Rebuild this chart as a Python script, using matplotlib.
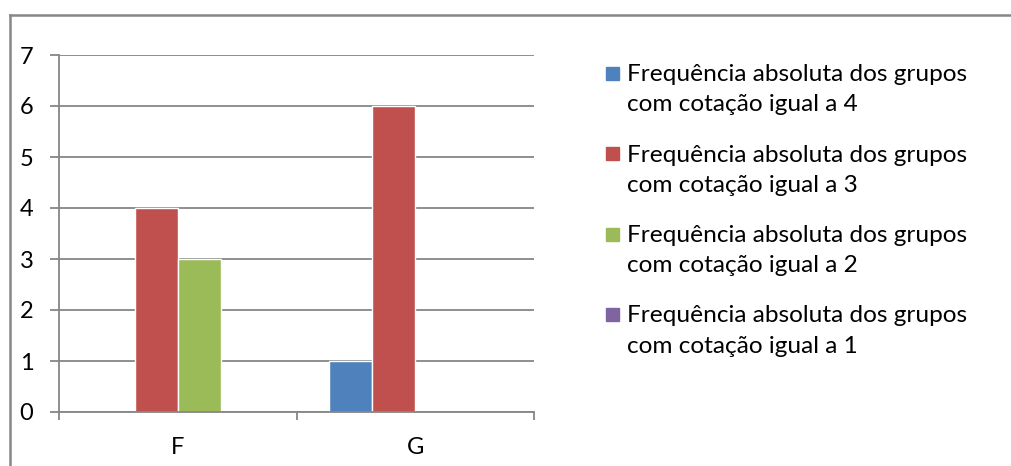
import matplotlib.pyplot as plt
import numpy as np
from matplotlib.patches import Rectangle
from matplotlib.lines import Line2D

plt.rcParams['font.family'] = ['Lato', 'DejaVu Sans']

# dados
categorias = ['F', 'G']
series = ['Frequência absoluta dos grupos\ncom cotação igual a 4',
          'Frequência absoluta dos grupos\ncom cotação igual a 3',
          'Frequência absoluta dos grupos\ncom cotação igual a 2',
          'Frequência absoluta dos grupos\ncom cotação igual a 1']
cot4 = [0, 1]
cot3 = [4, 6]
cot2 = [3, 0]
cot1 = [0, 0]
valores = [cot4, cot3, cot2, cot1]
cores = ['#4F81BD', '#C0504D', '#9BBB59', '#8064A2']

W, H = 1011, 466
fig = plt.figure(figsize=(W / 100, H / 100), dpi=100)
ax = fig.add_axes([59 / W, 1 - 412 / H, (534 - 59) / W, (412 - 55) / H])

cinza = '#868686'
x = np.arange(len(categorias))
larg = 1 / 5.5
for i, v in enumerate(valores):
    ax.bar(x + (i - 1.5) * larg, v, width=larg, color=cores[i],
           edgecolor='white', linewidth=[1 if a else 0 for a in v], zorder=3)

ax.set_xlim(-0.5, 1.5)
ax.set_ylim(0, 7)
ax.set_yticks(range(0, 8))
ax.yaxis.grid(True, color=cinza, linewidth=1.3, zorder=0)
ax.set_axisbelow(True)

ax.set_xticks([-0.5, 0.5, 1.5])
ax.set_xticklabels([])
ax.set_xticks(x, minor=True)
ax.set_xticklabels(categorias, minor=True)
ax.tick_params(axis='x', which='major', length=5.8, width=1.3, color=cinza)
ax.tick_params(axis='x', which='minor', length=0, pad=18, labelsize=17)
ax.tick_params(axis='y', length=6.5, width=1.3, color=cinza, pad=12, labelsize=17)

for s in ['top', 'right']:
    ax.spines[s].set_visible(False)
for s in ['left', 'bottom']:
    ax.spines[s].set_color(cinza)
    ax.spines[s].set_linewidth(1.3)
    ax.spines[s].set_zorder(4)

# legenda
for i, nome in enumerate(series):
    topo = 64 + i * 80.5
    fig.patches.append(Rectangle((606 / W, 1 - (topo + 15.5) / H), 13 / W, 13 / H,
                                 transform=fig.transFigure, color=cores[i]))
    fig.text(627 / W, 1 - topo / H, nome, fontsize=17.6, va='top',
             ha='left', linespacing=1.55)

# moldura
fig.add_artist(Line2D([10 / W, 10 / W], [0, 1 - 15 / H], color='#878787', lw=1.8))
fig.add_artist(Line2D([10 / W, 1], [1 - 15 / H, 1 - 15 / H], color='#878787', lw=1.8))

fig.savefig('out.png', dpi=100)
